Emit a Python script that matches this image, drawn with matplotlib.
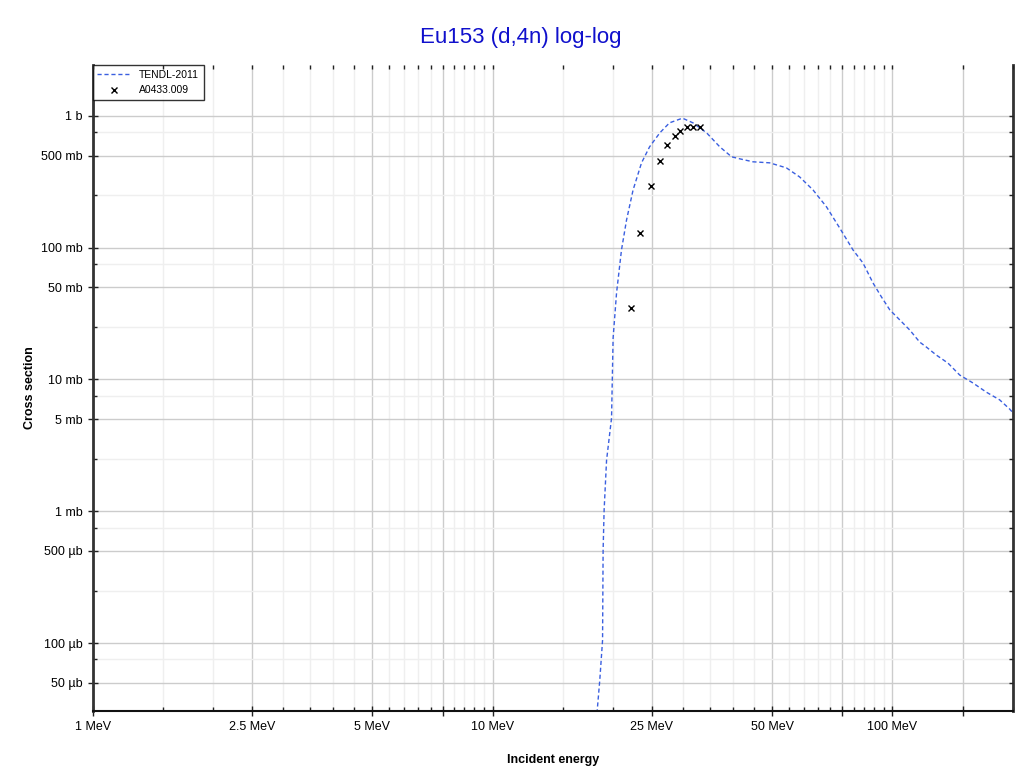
import numpy as np
import matplotlib
matplotlib.use("Agg")
import matplotlib.pyplot as plt
from matplotlib.ticker import FixedLocator, FuncFormatter, NullFormatter

plt.rcParams['font.family'] = ['Liberation Sans', 'DejaVu Sans']

# TENDL-2011 evaluation, energy in MeV, cross section in barn
tendl_e = [18.1, 18.26, 18.54, 18.84, 18.9, 19.01, 19.28, 19.84, 20.02, 20.42,
           21.01, 21.63, 22.46, 23.58, 24.7, 26.2, 27.7, 29.85, 31.7, 34.3,
           37.0, 39.6, 41.5, 44.8, 49.3, 54.3, 58.6, 63.3, 68.4, 73.8,
           79.7, 84.4, 89.4, 93.9, 98.5, 104.3, 110.5, 117.0, 121.6, 128.8,
           137.7, 147.3, 159.0, 171.8, 185.4, 196.4, 200.0]
tendl_xs = [1.8e-5, 3.03e-5, 5.22e-5, 1.05e-4, 5.07e-4, 1.02e-3, 2.44e-3, 5.09e-3, 0.0206, 0.0453,
            0.0961, 0.162, 0.274, 0.44, 0.582, 0.743, 0.885, 0.96, 0.885, 0.743,
            0.582, 0.489, 0.472, 0.448, 0.44, 0.403, 0.344, 0.274, 0.204, 0.141,
            0.096, 0.0765, 0.054, 0.0422, 0.0337, 0.0283, 0.0237, 0.0192, 0.0176, 0.0153,
            0.0133, 0.0108, 0.0094, 0.0080, 0.0070, 0.00596, 0.0056]

# EXFOR A0433.009
exp_e = [22.13, 23.44, 24.88, 26.2, 27.33, 28.51, 29.44, 30.66, 31.8, 32.98]
exp_xs = [0.035, 0.1286, 0.2956, 0.453, 0.602, 0.709, 0.769, 0.829, 0.821, 0.829]

x_major = [1, 2.5, 5, 7.5, 10, 25, 50, 75, 100, 150]
x_labels = {1: '1 MeV', 2.5: '2.5 MeV', 5: '5 MeV', 10: '10 MeV',
            25: '25 MeV', 50: '50 MeV', 100: '100 MeV'}
y_labels = {1: '1 b', 0.5: '500 mb', 0.1: '100 mb', 0.05: '50 mb', 0.01: '10 mb',
            0.005: '5 mb', 0.001: '1 mb', 5e-4: '500 µb', 1e-4: '100 µb', 5e-5: '50 µb'}


def x_fmt(v, pos):
    for k, s in x_labels.items():
        if abs(v - k) < 1e-6 * k:
            return s
    return ''


def y_fmt(v, pos):
    for k, s in y_labels.items():
        if abs(v - k) < 1e-6 * k:
            return s
    return ''


# minor x ticks every 0.5 within a decade, y minors at 2.5 and 7.5
x_minor = []
for d in [1, 10, 100]:
    for m in np.arange(1.5, 10.0, 0.5):
        if m not in (2.5, 5, 7.5) and m * d <= 200:
            x_minor.append(m * d)
y_major, y_minor = [], []
for d in [1e-5, 1e-4, 1e-3, 1e-2, 1e-1, 1]:
    y_major += [d, 5 * d]
    y_minor += [2.5 * d, 7.5 * d]


def setup(a):
    a.set_xscale('log')
    a.set_yscale('log')
    a.set_xlim(1, 200)
    a.set_ylim(3.05e-5, 2.43)
    a.xaxis.set_major_locator(FixedLocator(x_major))
    a.xaxis.set_minor_locator(FixedLocator(x_minor))
    a.yaxis.set_major_locator(FixedLocator(y_major))
    a.yaxis.set_minor_locator(FixedLocator(y_minor))
    a.xaxis.set_minor_formatter(NullFormatter())
    a.yaxis.set_minor_formatter(NullFormatter())


fig = plt.figure(figsize=(10.22, 7.74), dpi=100)
pos = [0.0907, 0.0814, 0.9003, 0.8346]
ax = fig.add_axes(pos)
setup(ax)

ax.plot(tendl_e, tendl_xs, ls=(0, (3, 2)), color='#3a5fe0', lw=1.0, label='TENDL-2011')
ax.plot(exp_e, exp_xs, ls='none', marker='x', ms=5, mew=1.0, color='black', label='A0433.009')

ax.xaxis.set_major_formatter(FuncFormatter(x_fmt))
ax.yaxis.set_major_formatter(FuncFormatter(y_fmt))

ax.grid(True, which='major', color='#cccccc', lw=1.0)
ax.grid(True, which='minor', color='#efefef', lw=1.0)
ax.set_axisbelow(True)

ax.tick_params(which='major', direction='inout', length=7, width=1, color='#222222',
               labelsize=9, pad=4)
ax.tick_params(which='minor', direction='in', length=3, width=1, color='#222222')

ax.spines['top'].set_visible(False)
ax.spines['left'].set_linewidth(2)
ax.spines['left'].set_color('#333333')
ax.spines['right'].set_linewidth(2)
ax.spines['right'].set_color('#333333')
ax.spines['bottom'].set_linewidth(1.5)
ax.spines['bottom'].set_color('#111111')

# short inward ticks on the top and right edges
ax2 = fig.add_axes(pos, frameon=False)
setup(ax2)
ax2.patch.set_visible(False)
ax2.tick_params(which='both', direction='in', length=3, width=1, color='#222222',
                top=True, right=True, bottom=False, left=False,
                labeltop=False, labelright=False, labelbottom=False, labelleft=False)

ax.set_xlabel('Incident energy', fontsize=9, fontweight='bold', labelpad=15)
ax.set_ylabel('Cross section', fontsize=9, fontweight='bold', labelpad=3)
fig.text(0.51, 0.951, 'Eu153 (d,4n) log-log', ha='center', va='center',
         fontsize=16, color='#1010cc')

leg = ax.legend(loc='upper left', bbox_to_anchor=(0, 1), borderaxespad=0,
                fontsize=7.5, frameon=True, fancybox=False, edgecolor='black',
                handlelength=3.2, borderpad=0.45, labelspacing=0.55)
leg.get_frame().set_linewidth(1.0)

fig.savefig('out.png', dpi=100)
